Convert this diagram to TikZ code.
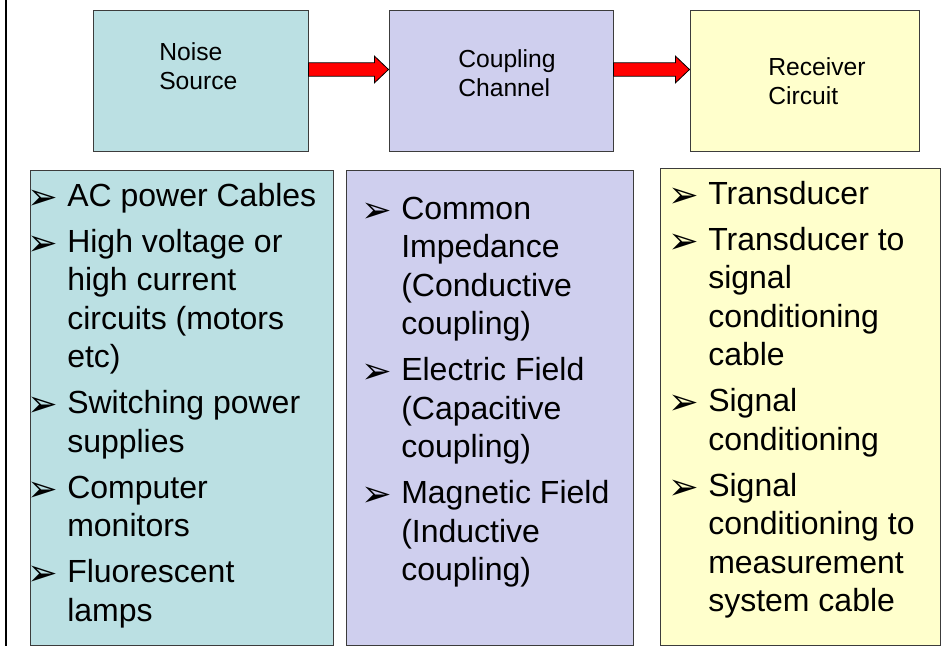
\documentclass[tikz,border=0pt]{standalone}
\usepackage{fontspec}
\setmainfont{Liberation Sans}
\newfontfamily\bulfont{DejaVu Sans}
\usepackage{graphicx}
\usepackage{xcolor}
\usepackage{tikz}
\usetikzlibrary{positioning,calc}

\definecolor{srcteal}{RGB}{187,224,227}
\definecolor{chnlav}{RGB}{207,207,238}
\definecolor{rcvyel}{RGB}{255,255,204}
\definecolor{boxline}{RGB}{60,60,60}

\newcommand\bul{\raisebox{-2.5pt}{\resizebox{23pt}{!}{\bulfont ➢}}}
\newcommand\itm[1]{\hbox{\llap{\makebox[29.5pt][l]{\bul}}#1}}
\newcommand\cnt[1]{\hbox{#1}}
\newcommand\gap{\vskip 5.6pt}
\newcommand\blockarrow[2]{%
    \draw[fill=red, draw=black, line width=0.6pt]
        let \p1=(#1.east), \p2=(#2.west) in
        (\x1,\y1+13.25pt) -- (\x2-10.5pt,\y1+13.25pt) -- (\x2-10.5pt,\y1+18.25pt)
        -- (\x2,\y1+8.25pt) -- (\x2-10.5pt,\y1-1.75pt) -- (\x2-10.5pt,\y1+3.25pt)
        -- (\x1,\y1+3.25pt) -- cycle;}

\begin{document}
\begin{tikzpicture}[
        x=0.75pt, y=-0.75pt,
        block/.style={rectangle, draw=boxline, line width=0.75pt, inner sep=0pt,
            minimum height=105.75pt},
        list/.style={rectangle, draw=boxline, line width=0.75pt, inner sep=0pt,
            minimum height=356.25pt},
        head/.style={inner sep=0pt, align=left, font=\fontsize{18.5}{21.75}\selectfont},
        items/.style={inner sep=0pt, anchor=base west}
    ]
        \useasboundingbox (0,0) rectangle (951,646);
        \draw[line width=1.5pt] (6,0) -- (6,646);

        \node[block, fill=srcteal, minimum width=161.25pt] (ns) at (200.5,80.5) {};
        \node[block, fill=chnlav,  minimum width=168pt,    right=60pt of ns] (cc) {};
        \node[block, fill=rcvyel,  minimum width=171.75pt, right=57pt of cc] (rc) {};

        \node[head, anchor=west] (nst) at (159,66.5) {Noise\\Source};
        \node[head, anchor=west] (cct) at (458,73.5) {Coupling\\Channel};
        \node[head, anchor=west] (rct) at (768,81)   {Receiver\\Circuit};

        \blockarrow{ns}{cc}
        \blockarrow{cc}{rc}

        \node[list, fill=srcteal, minimum width=227.25pt] (nsl) at (181.5,407.5) {};
        \node[list, fill=chnlav,  minimum width=215.25pt] (ccl) at (489.5,407.5) {};
        \node[list, fill=rcvyel,  minimum width=210pt, minimum height=357.75pt] (rcl) at (800,406.5) {};

        \node[items] (nsi) at (67,206) {\fontsize{24}{28.9}\selectfont\vtop{%
            \itm{AC power Cables}\gap
            \itm{High voltage or}\cnt{high current}\cnt{circuits (motors}\cnt{etc)}\gap
            \itm{Switching power}\cnt{supplies}\gap
            \itm{Computer}\cnt{monitors}\gap
            \itm{Fluorescent}\cnt{lamps}}};
        \node[items] (cci) at (401,219) {\fontsize{24}{28.9}\selectfont\vtop{%
            \itm{Common}\cnt{Impedance}\cnt{(Conductive}\cnt{coupling)}\gap
            \itm{Electric Field}\cnt{(Capacitive}\cnt{coupling)}\gap
            \itm{Magnetic Field}\cnt{(Inductive}\cnt{coupling)}}};
        \node[items] (rci) at (708,204) {\fontsize{24}{28.9}\selectfont\vtop{%
            \itm{Transducer}\gap
            \itm{Transducer to}\cnt{signal}\cnt{conditioning}\cnt{cable}\gap
            \itm{Signal}\cnt{conditioning}\gap
            \itm{Signal}\cnt{conditioning to}\cnt{measurement}\cnt{system cable}}};
    \end{tikzpicture}
\end{document}
